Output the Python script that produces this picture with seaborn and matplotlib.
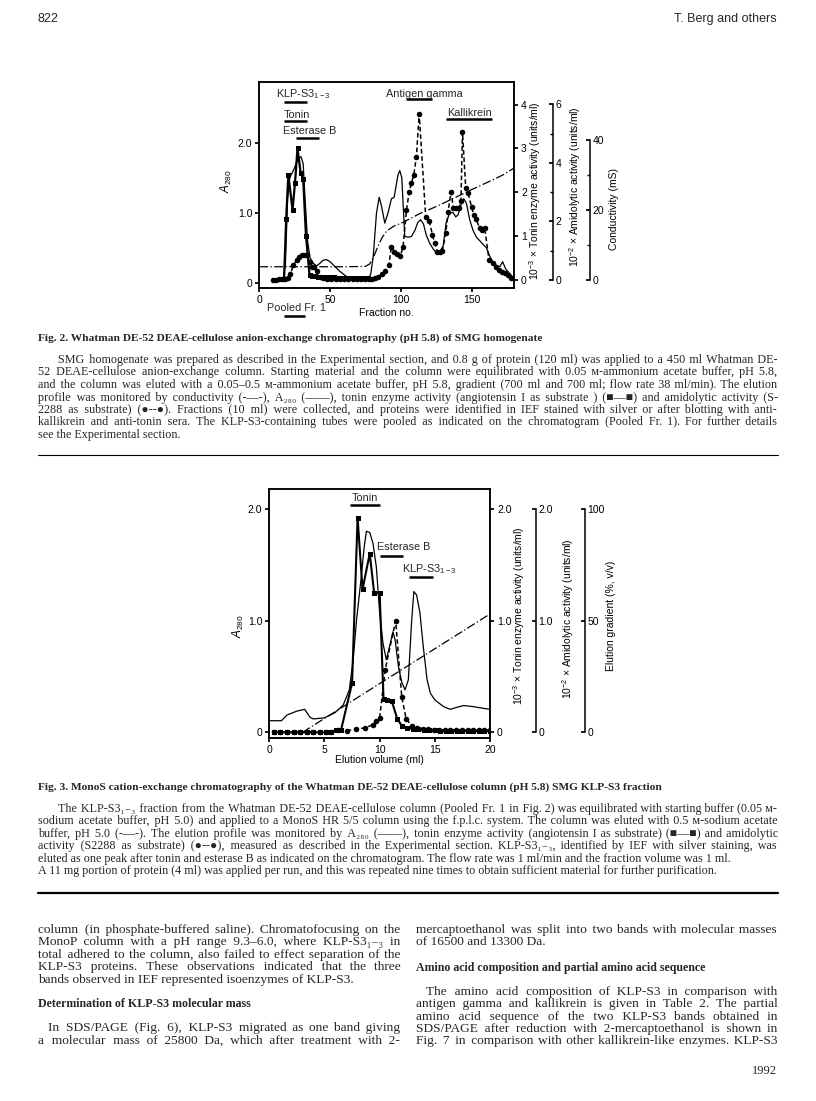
import matplotlib
matplotlib.use("Agg")
import matplotlib.pyplot as plt
import matplotlib.transforms as mtransforms
from matplotlib.lines import Line2D
import seaborn as sns

# ---- Fig. 2 data (DE-52 column) ----
f2_frac_a280 = [10, 17, 18.5, 20, 21.5, 24, 26.4, 28, 29.5, 31, 32.2, 34.1, 35.8, 38, 40.5, 43,
                45, 47.5, 50, 53, 57, 61.6, 68.7, 77, 78.8, 80.5, 82.8, 84.7, 86.4, 88.7, 91,
                93.4, 95.3, 98, 99.3, 100.7, 102.8, 105.2, 107.5, 110, 112, 114, 116, 118,
                120.5, 123, 125, 127.5, 130, 132, 134.6, 137, 138.8, 140.5, 142.8, 144.5,
                146.4, 148.7, 151, 153.4, 155.8, 158, 160.5, 162.8, 165, 167.5, 170, 172, 174,
                177, 179.5]
f2_a280 = [0.02, 0.02, 0.3, 1.2, 1.5, 1.6, 1.72, 1.78, 1.8, 1.7, 1.25, 0.6, 0.36, 0.28, 0.24,
           0.28, 0.32, 0.33, 0.3, 0.24, 0.16, 0.09, 0.05, 0.04, 0.13, 0.37, 0.99, 1.22, 1.09,
           0.85, 1.0, 1.2, 1.22, 1.54, 1.6, 1.5, 0.66, 0.65, 0.66, 0.75, 0.86, 0.9, 0.84, 0.68,
           0.56, 0.48, 0.43, 0.44, 0.53, 0.85, 1.0, 1.0, 0.94, 0.97, 1.13, 1.2, 1.13, 0.9, 0.75,
           0.65, 0.6, 0.55, 0.5, 0.38, 0.3, 0.25, 0.23, 0.3, 0.2, 0.13, 0.07]

f2_frac_tonin = [17.5, 19, 20.5, 23.5, 25.2, 27, 29.2, 31, 33, 35.5, 37.5, 39.5, 41.5, 44, 47,
                 50, 53, 56, 59, 62, 65, 68, 71, 74, 77]
f2_tonin = [0.03, 1.4, 2.4, 1.6, 2.2, 3.0, 2.45, 2.3, 1.0, 0.12, 0.1, 0.09, 0.08, 0.07, 0.07,
            0.06, 0.06, 0.05, 0.05, 0.05, 0.05, 0.05, 0.05, 0.05, 0.05]

f2_frac_amido = [10, 12, 14, 16, 18, 20, 22, 24, 26.4, 28, 30, 32, 33.8, 35.5, 37, 39, 41, 43,
                 45, 48, 51, 54, 57, 60, 63, 66, 69, 72, 75, 77.6, 79.3, 81.6, 84, 86.4, 88.7,
                 91.5, 93.4, 95.3, 97.4, 99.7, 101.6, 104, 105.9, 107.5, 109.2, 111, 113, 117.6,
                 120, 122.4, 124, 125.9, 127.5, 129.4, 131.8, 133.4, 135.5, 137.2, 139, 141,
                 142.5, 143.6, 145.9, 147.6, 150, 151.6, 153, 155.8, 157.7, 159.3, 162.4, 165,
                 167, 169.4, 171.8, 173.4, 175.7, 178]
f2_amido = [0.0, 0.0, 0.02, 0.03, 0.05, 0.08, 0.2, 0.5, 0.68, 0.8, 0.85, 0.85, 0.85, 0.6, 0.45,
            0.43, 0.3, 0.1, 0.06, 0.05, 0.05, 0.05, 0.04, 0.04, 0.04, 0.04, 0.04, 0.04, 0.03,
            0.02, 0.03, 0.06, 0.12, 0.2, 0.32, 0.5, 1.14, 0.97, 0.89, 0.82, 1.14, 2.39, 3.0,
            3.3, 3.6, 4.2, 5.67, 2.16, 2.03, 1.54, 1.25, 0.97, 0.97, 0.99, 1.6, 2.33, 3.0, 2.45,
            2.45, 2.45, 2.7, 5.05, 3.13, 2.96, 2.5, 2.22, 2.1, 1.77, 1.71, 1.77, 0.68, 0.57,
            0.46, 0.34, 0.28, 0.23, 0.17, 0.06]

f2_frac_cond = [0, 20, 40, 60, 75, 78, 81, 84, 87, 90, 95, 101.6, 113.4, 125, 137, 148.7, 160.5,
                172, 180]
f2_cond = [3.8, 3.8, 3.8, 3.8, 3.9, 4.6, 6.8, 9.8, 12.3, 14.0, 15.4, 16.5, 19.0, 21.0, 23.3,
           25.6, 27.8, 30.0, 32.0]

# ---- Fig. 3 data (MonoS column) ----
f3_ml_a280 = [0, 1.1, 1.6, 2.5, 3.2, 3.7, 4.0, 5.0, 5.95, 6.7, 7.25, 7.6, 7.9, 8.3, 8.6, 8.8,
              9.1, 9.4, 9.7, 10.0, 10.3, 10.6, 10.9, 11.2, 11.4, 11.7, 12.0, 12.3, 12.6, 12.9,
              13.1, 13.35, 13.65, 13.95, 14.3, 14.6, 15.0, 15.8, 16.4, 17.0, 17.6, 18.5, 19.4, 20]
f3_a280 = [0.104, 0.104, 0.155, 0.19, 0.206, 0.134, 0.12, 0.13, 0.176, 0.245, 0.38, 0.65, 1.0,
           1.36, 1.66, 1.8, 1.79, 1.69, 1.48, 1.07, 0.8, 0.65, 0.77, 0.9, 0.83, 0.59, 0.45,
           0.38, 0.47, 1.0, 1.26, 1.23, 1.07, 0.77, 0.47, 0.35, 0.29, 0.23, 0.206, 0.224, 0.24,
           0.23, 0.215, 0.206]

f3_ml_tonin = [0.4, 1.0, 1.6, 2.2, 2.8, 3.4, 4.0, 4.6, 5.1, 5.6, 6.0, 6.5, 7.5, 8.0, 8.45,
               9.1, 9.5, 10.0, 10.35, 10.7, 11.1, 11.6, 12.0, 12.5, 13.0, 13.5, 14.0, 14.5,
               15.0, 15.5, 16.0, 16.5, 17.0, 17.5, 18.0, 18.5, 19.0, 19.5, 20.0]
f3_tonin = [0.0, 0.0, 0.0, 0.0, 0.0, 0.0, 0.0, 0.0, 0.0, 0.0, 0.02, 0.02, 0.44, 1.92, 1.28,
            1.6, 1.25, 1.25, 0.3, 0.29, 0.28, 0.12, 0.06, 0.04, 0.03, 0.03, 0.02, 0.02, 0.02,
            0.01, 0.01, 0.01, 0.01, 0.01, 0.01, 0.01, 0.01, 0.01, 0.01]

f3_ml_amido = [0.4, 1.0, 1.6, 2.2, 2.8, 3.4, 4.0, 4.6, 5.1, 5.6, 6.2, 7.0, 7.9, 8.7, 9.4, 9.7,
               10.0, 10.5, 11.45, 12.0, 12.4, 12.9, 13.4, 13.9, 14.4, 14.9, 15.4, 15.9, 16.4,
               16.9, 17.5, 18.0, 18.5, 19.0, 19.5, 20.0]
f3_amido = [0.0, 0.0, 0.0, 0.0, 0.0, 0.0, 0.0, 0.0, 0.0, 0.0, 0.02, 0.015, 0.03, 0.04, 0.07,
            0.1, 0.13, 0.56, 1.0, 0.32, 0.12, 0.06, 0.04, 0.03, 0.03, 0.02, 0.02, 0.02, 0.02,
            0.02, 0.02, 0.02, 0.02, 0.02, 0.02, 0.02]

f3_ml_grad = [3.0, 20.0]
f3_grad = [0, 53]

# ---- page text ----
header_left = "822"
header_right = "T. Berg and others"
footer_right = "1992"

cap2_title = "Fig. 2. Whatman DE-52 DEAE-cellulose anion-exchange chromatography (pH 5.8) of SMG homogenate"
cap2_lines = [
    "SMG homogenate was prepared as described in the Experimental section, and 0.8 g of protein (120 ml) was applied to a 450 ml Whatman DE-",
    "52 DEAE-cellulose anion-exchange column. Starting material and the column were equilibrated with 0.05 \u043c-ammonium acetate buffer, pH 5.8,",
    "and the column was eluted with a 0.05\u20130.5 \u043c-ammonium acetate buffer, pH 5.8, gradient (700 ml and 700 ml; flow rate 38 ml/min). The elution",
    "profile was monitored by conductivity (-\u2014-), A\u2082\u2088\u2080 (\u2014\u2014), tonin enzyme activity (angiotensin I as substrate ) (\u25a0\u2014\u25a0) and amidolytic activity (S-",
    "2288 as substrate) (\u25cf--\u25cf). Fractions (10 ml) were collected, and proteins were identified in IEF stained with silver or after blotting with anti-",
    "kallikrein and anti-tonin sera. The KLP-S3-containing tubes were pooled as indicated on the chromatogram (Pooled Fr. 1). For further details",
    "see the Experimental section.",
]
cap3_title = "Fig. 3. MonoS cation-exchange chromatography of the Whatman DE-52 DEAE-cellulose column (pH 5.8) SMG KLP-S3 fraction"
cap3_lines = [
    "The KLP-S3\u2081\u208b\u2083 fraction from the Whatman DE-52 DEAE-cellulose column (Pooled Fr. 1 in Fig. 2) was equilibrated with starting buffer (0.05 \u043c-",
    "sodium acetate buffer, pH 5.0) and applied to a MonoS HR 5/5 column using the f.p.l.c. system. The column was eluted with 0.5 \u043c-sodium acetate",
    "buffer, pH 5.0 (-\u2014-). The elution profile was monitored by A\u2082\u2088\u2080 (\u2014\u2014), tonin enzyme activity (angiotensin I as substrate) (\u25a0\u2014\u25a0) and amidolytic",
    "activity (S2288 as substrate) (\u25cf--\u25cf), measured as described in the Experimental section. KLP-S3\u2081\u208b\u2083, identified by IEF with silver staining, was",
    "eluted as one peak after tonin and esterase B as indicated on the chromatogram. The flow rate was 1 ml/min and the fraction volume was 1 ml.",
    "A 11 mg portion of protein (4 ml) was applied per run, and this was repeated nine times to obtain sufficient material for further purification.",
]
left_col_a = [
    "column (in phosphate-buffered saline). Chromatofocusing on the",
    "MonoP column with a pH range 9.3\u20136.0, where KLP-S3\u2081\u208b\u2083 in",
    "total adhered to the column, also failed to effect separation of the",
    "KLP-S3 proteins. These observations indicated that the three",
    "bands observed in IEF represented isoenzymes of KLP-S3.",
]
left_head = "Determination of KLP-S3 molecular mass"
left_col_b = [
    "In SDS/PAGE (Fig. 6), KLP-S3 migrated as one band giving",
    "a molecular mass of 25800 Da, which after treatment with 2-",
]
right_col_a = [
    "mercaptoethanol was split into two bands with molecular masses",
    "of 16500 and 13300 Da.",
]
right_head = "Amino acid composition and partial amino acid sequence"
right_col_b = [
    "The amino acid composition of KLP-S3 in comparison with",
    "antigen gamma and kallikrein is given in Table 2. The partial",
    "amino acid sequence of the two KLP-S3 bands obtained in",
    "SDS/PAGE after reduction with 2-mercaptoethanol is shown in",
    "Fig. 7 in comparison with other kallikrein-like enzymes. KLP-S3",
]

sns.set_theme(style="ticks")
plt.rcParams.update({
    "font.family": ["Liberation Sans", "DejaVu Sans"],
    "mathtext.fontset": "custom",
    "mathtext.rm": "Liberation Sans",
    "mathtext.it": "Liberation Sans:italic",
    "mathtext.bf": "Liberation Sans:bold",
    "axes.linewidth": 1.1,
    "axes.edgecolor": "black",
    "xtick.color": "black",
    "ytick.color": "black",
    "xtick.labelsize": 7.5,
    "ytick.labelsize": 7.5,
    "xtick.major.size": 3,
    "ytick.major.size": 3,
    "ytick.minor.size": 2,
    "xtick.major.pad": 2,
    "ytick.major.pad": 2,
})

W, H = 816, 1101
fig = plt.figure(figsize=(W / 100, H / 100), dpi=100)
fig.patch.set_facecolor("white")
serif = ["Liberation Serif", "DejaVu Serif"]
label_kw = dict(fontsize=7.5, color="black")


def axes_rect(x0, y0, x1, y1):
    return [x0 / W, 1 - y1 / H, (x1 - x0) / W, (y1 - y0) / H]


def outer_axis(ax, pos, lo, hi, ylim, ticks, labels, minor, ylabel, lab_x, lab_y):
    tw = ax.twinx()
    for s in ["left", "top", "bottom"]:
        tw.spines[s].set_visible(False)
    tw.spines["right"].set_position(("axes", pos))
    tw.spines["right"].set_bounds(lo, hi)
    tw.set_ylim(*ylim)
    tw.set_yticks(ticks, labels)
    tw.set_yticks(minor, minor=True)
    tw.tick_params(axis="y", which="both", direction="in")
    tw.set_ylabel(ylabel, **label_kw)
    tw.yaxis.set_label_coords(lab_x, lab_y)
    return tw


def solid(ax, x, y, lw=0.9):
    sns.lineplot(x=x, y=y, ax=ax, color="black", lw=lw, estimator=None, sort=False)


def marked(ax, x, y, marker, ls, lw, ms):
    sns.lineplot(x=x, y=y, ax=ax, color="black", lw=lw, linestyle=ls, marker=marker,
                 markersize=ms, markeredgewidth=0, estimator=None, sort=False)


def bar_label(ax, text, tx, ty, x0, x1, yb):
    ax.text(tx, ty, text, ha="left", va="center", fontsize=7.8, clip_on=False)
    ax.plot([x0, x1], [yb, yb], color="black", lw=1.8, clip_on=False, solid_capstyle="butt")


# ================= Fig. 2 =================
ax2 = fig.add_axes(axes_rect(259.3, 81.7, 514, 287.7))
ax2.set_xlim(0, 180)
ax2.set_ylim(-0.0714, 2.871)
solid(ax2, f2_frac_a280, f2_a280)
ax2.set_xticks([0, 50, 100, 150])
ax2.set_yticks([0, 1.0, 2.0], ["0", "1.0", "2.0"])
ax2.set_xlabel("Fraction no.", **label_kw)
ax2.xaxis.set_label_coords(0.5, -0.1)
ax2.set_ylabel(r"$A_{280}$", fontsize=8.5, color="black")
ax2.yaxis.set_label_coords(-0.1, 0.52)

t2 = ax2.twinx()
t2.set_ylim(-0.175, 4.52)
marked(t2, f2_frac_tonin, f2_tonin, "s", "-", 1.6, 3.6)
t2.set_yticks([0, 1, 2, 3, 4])
t2.set_ylabel("10$^{-3}$ \u00d7 Tonin enzyme activity (units/ml)", **label_kw)
t2.yaxis.set_label_coords(1.05, 0.47)

a2 = outer_axis(ax2, 1.152, 0, 6, (-0.26, 6.77), [0, 2, 4, 6], ["0", "2", "4", "6"],
                [1, 3, 5], "10$^{-2}$ \u00d7 Amidolytic activity (units/ml)", 1.207, 0.49)
marked(a2, f2_frac_amido, f2_amido, "o", (0, (3, 1.8)), 1.1, 4.0)

c2 = outer_axis(ax2, 1.298, 0, 40, (-2.19, 56.7), [0, 20, 40], ["0", "20", "40"],
                [10, 30], "Conductivity (mS)", 1.372, 0.38)
sns.lineplot(x=f2_frac_cond, y=f2_cond, ax=c2, color="black", lw=0.9,
             linestyle=(0, (7, 2, 1, 2)), estimator=None, sort=False)
for a in (t2, a2, c2):
    a.set_xlim(0, 180)

bar_label(ax2, "KLP-S3$_{1-3}$", 11.5, 2.70, 17.4, 33.9, 2.586)
bar_label(ax2, "Tonin", 17.4, 2.40, 17.4, 33.9, 2.31)
bar_label(ax2, "Esterase B", 16.9, 2.17, 25.9, 42.4, 2.06)
bar_label(ax2, "Antigen gamma", 89.4, 2.70, 104, 122.4, 2.63)
bar_label(ax2, "Kallikrein", 132.7, 2.43, 131.8, 164.7, 2.34)
blend = mtransforms.blended_transform_factory(ax2.transData, ax2.transAxes)
ax2.text(5.6, -0.098, "Pooled Fr. 1", transform=blend, ha="left", va="center",
         fontsize=7.8, clip_on=False)
ax2.plot([17.4, 32.2], [-0.137, -0.137], transform=blend, color="black", lw=1.8,
         clip_on=False, solid_capstyle="butt")

# ================= Fig. 3 =================
ax3 = fig.add_axes(axes_rect(269.3, 489.3, 490, 737.7))
ax3.set_xlim(0, 20)
ax3.set_ylim(-0.048, 2.176)
solid(ax3, f3_ml_a280, f3_a280)
ax3.set_xticks([0, 5, 10, 15, 20])
ax3.set_yticks([0, 1.0, 2.0], ["0", "1.0", "2.0"])
ax3.set_xlabel("Elution volume (ml)", **label_kw)
ax3.xaxis.set_label_coords(0.5, -0.07)
ax3.set_ylabel(r"$A_{280}$", fontsize=8.5, color="black")
ax3.yaxis.set_label_coords(-0.105, 0.45)

t3 = ax3.twinx()
t3.set_ylim(-0.048, 2.176)
marked(t3, f3_ml_tonin, f3_tonin, "s", "-", 1.5, 3.6)
t3.set_yticks([0, 1.0, 2.0], ["0", "1.0", "2.0"])
t3.set_ylabel("10$^{-3}$ \u00d7 Tonin enzyme activity (units/ml)", **label_kw)
t3.yaxis.set_label_coords(1.097, 0.49)

a3 = outer_axis(ax3, 1.208, 0, 2.0, (-0.048, 2.176), [0, 1.0, 2.0], ["0", "1.0", "2.0"],
                [], "10$^{-2}$ \u00d7 Amidolytic activity (units/ml)", 1.319, 0.48)
marked(a3, f3_ml_amido, f3_amido, "o", (0, (3, 1.8)), 1.1, 4.0)

g3 = outer_axis(ax3, 1.430, 0, 100, (-2.39, 108.8), [0, 50, 100], ["0", "50", "100"],
                [], "Elution gradient (%, v/v)", 1.526, 0.49)
sns.lineplot(x=f3_ml_grad, y=f3_grad, ax=g3, color="black", lw=0.9,
             linestyle=(0, (7, 2, 1, 2)), estimator=None, sort=False)
for a in (t3, a3, g3):
    a.set_xlim(0, 20)

bar_label(ax3, "Tonin", 7.46, 2.10, 7.3, 10.0, 2.036)
bar_label(ax3, "Esterase B", 9.8, 1.66, 10.0, 12.1, 1.58)
bar_label(ax3, "KLP-S3$_{1-3}$", 12.0, 1.46, 12.7, 14.8, 1.39)

# ================= page text =================
renderer = fig.canvas.get_renderer()
HAIR = "\u200a"


def text_width(s, **kw):
    t = fig.text(0, 0, s, **kw)
    w = t.get_window_extent(renderer).width
    t.remove()
    return w


def page_line(s, x0, x1, y, justify=True, **kw):
    # justify by padding the word gaps with hair spaces, one text object per line
    natural = text_width(s, **kw)
    target = x1 - x0
    if natural > target:
        kw = dict(kw, fontsize=kw["fontsize"] * target / natural)
        natural = text_width(s, **kw)
    if justify:
        words = s.split(" ")
        gaps = len(words) - 1
        hair = (text_width("a" + HAIR * 20 + "a", **kw) - text_width("aa", **kw)) / 20
        n = int(round((target - natural) / hair)) if hair > 0 else 0
        if gaps > 0 and n > 0:
            base, rem = divmod(n, gaps)
            out = words[0]
            for i, w in enumerate(words[1:]):
                out += " " + HAIR * (base + (1 if i < rem else 0)) + w
            s = out
    fig.text(x0 / W, 1 - y / H, s, va="baseline", **kw)


fig.text(38 / W, 1 - 22 / H, header_left, fontsize=9, va="baseline")
fig.text(777 / W, 1 - 22 / H, header_right, fontsize=9, ha="right", va="baseline")
fig.text(777 / W, 1 - 1074 / H, footer_right, fontsize=9, ha="right", va="baseline",
         family=serif)

cap_kw = dict(fontsize=8.7, family=serif)
fig.text(38 / W, 1 - 341 / H, cap2_title, fontsize=8.2, fontweight="bold", family=serif,
         va="baseline")
for i, s in enumerate(cap2_lines):
    page_line(s, 58 if i == 0 else 38, 777, 363 + 12.5 * i, i < len(cap2_lines) - 1, **cap_kw)

fig.add_artist(Line2D([38 / W, 778 / W], [1 - 455 / H] * 2, color="black", lw=0.8))

fig.text(38 / W, 1 - 790 / H, cap3_title, fontsize=8.2, fontweight="bold", family=serif,
         va="baseline")
for i, s in enumerate(cap3_lines):
    page_line(s, 58 if i == 0 else 38, 777, 812 + 12.4 * i, i < len(cap3_lines) - 2, **cap_kw)

fig.add_artist(Line2D([38 / W, 778 / W], [1 - 893 / H] * 2, color="black", lw=1.6))

body_kw = dict(fontsize=9.6, family=serif)
for i, s in enumerate(left_col_a):
    page_line(s, 38, 400, 933 + 12.4 * i, i < len(left_col_a) - 1, **body_kw)
fig.text(38 / W, 1 - 1007 / H, left_head, fontsize=8.6, fontweight="bold", family=serif,
         va="baseline")
for i, s in enumerate(left_col_b):
    page_line(s, 48 if i == 0 else 38, 400, 1031 + 12.4 * i, True, **body_kw)

for i, s in enumerate(right_col_a):
    page_line(s, 416, 777, 933 + 12.4 * i, i < len(right_col_a) - 1, **body_kw)
fig.text(416 / W, 1 - 971 / H, right_head, fontsize=8.6, fontweight="bold", family=serif,
         va="baseline")
for i, s in enumerate(right_col_b):
    page_line(s, 426 if i == 0 else 416, 777, 995 + 12.3 * i, True, **body_kw)

fig.savefig("out.png", dpi=100, facecolor="white")
